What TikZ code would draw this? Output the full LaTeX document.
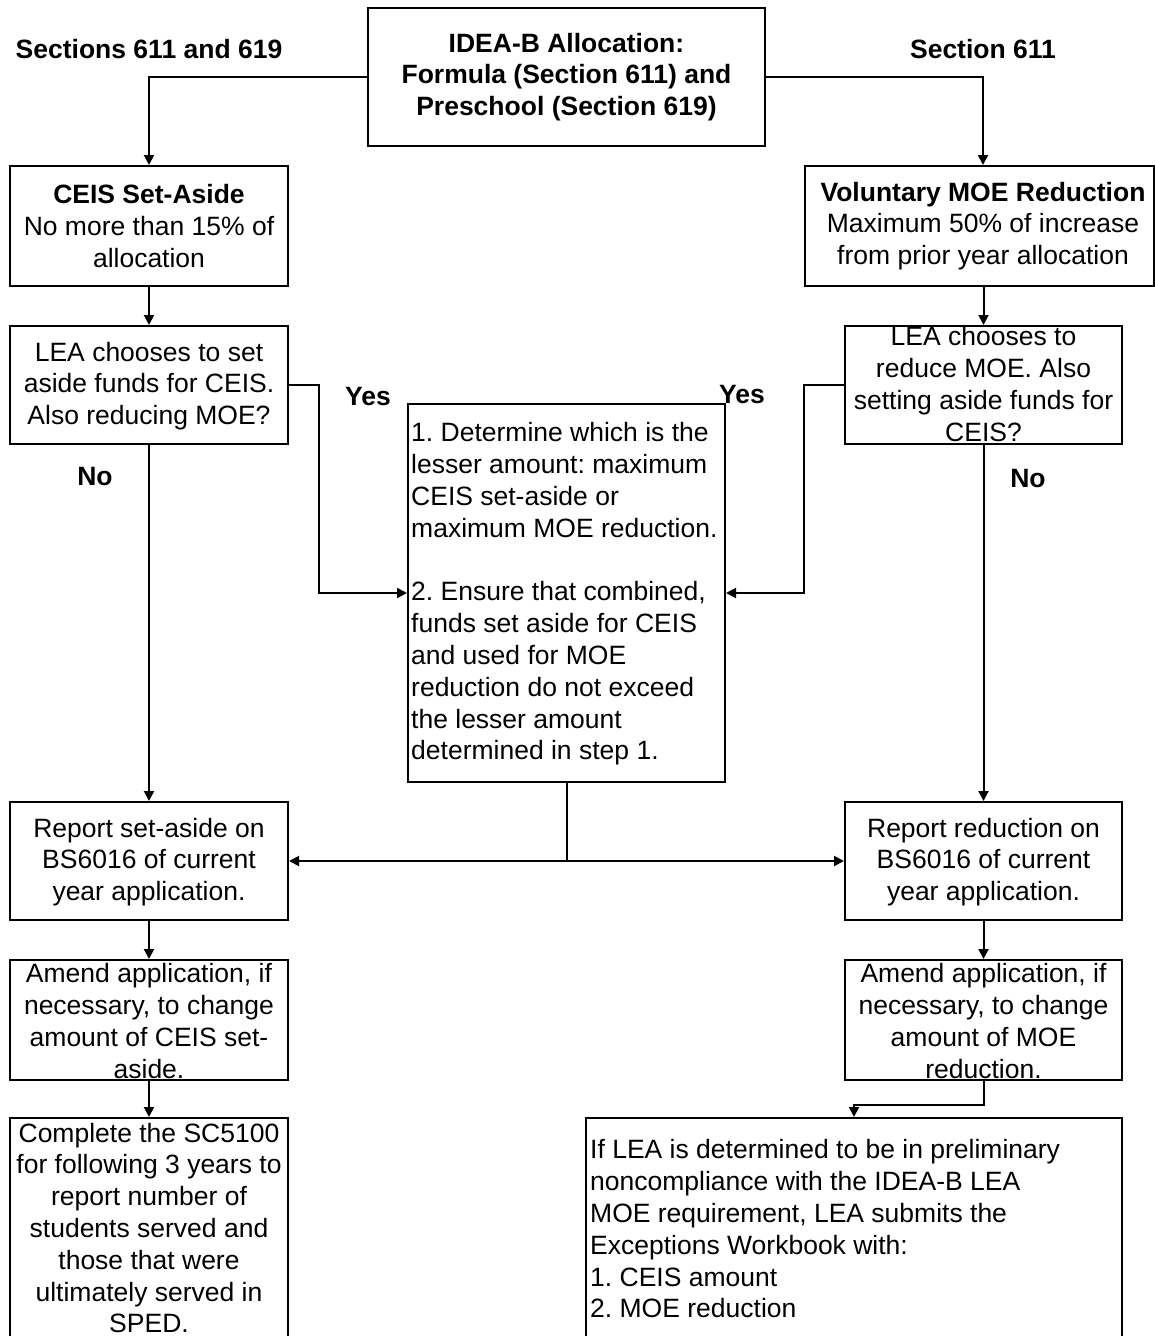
\documentclass[tikz,border=0pt]{standalone}
\usepackage{fontspec}
\setmainfont{Liberation Sans}
\usetikzlibrary{arrows.meta}
\frenchspacing
\begin{document}
\begin{tikzpicture}[x=1pt,y=-1pt,
  box/.style={draw, line width=2pt, inner sep=0pt},
  txt/.style={inner sep=0pt, font=\fontsize{26.5}{31.8}\selectfont, align=center},
  txtl/.style={inner sep=0pt, font=\fontsize{26.5}{31.8}\selectfont, align=left},
  lbl/.style={inner sep=0pt, font=\fontsize{26.5}{31.8}\selectfont\bfseries},
  ln/.style={line width=2pt},
  arr/.style={ln, -{Triangle[length=10pt,width=10pt]}}]
\clip (0,0) rectangle (1155,1336);
\fill[white] (0,0) rectangle (1155,1336);

% boxes
\node[box, minimum width=397pt, minimum height=138pt] (top) at (566.5,77) {};
\node[box, minimum width=278pt, minimum height=120pt] (ceis) at (149,226) {};
\node[box, minimum width=349pt, minimum height=120pt] (moe) at (979.5,226) {};
\node[box, minimum width=278pt, minimum height=118pt] (lea1) at (149,385) {};
\node[box, minimum width=277pt, minimum height=118pt] (lea2) at (983.5,385) {};
\node[box, minimum width=317pt, minimum height=378pt] (mid) at (566.5,593) {};
\node[box, minimum width=278pt, minimum height=118pt] (rep1) at (149,861) {};
\node[box, minimum width=277pt, minimum height=118pt] (rep2) at (983.5,861) {};
\node[box, minimum width=278pt, minimum height=120pt] (amd1) at (149,1020) {};
\node[box, minimum width=277pt, minimum height=120pt] (amd2) at (983.5,1020) {};
\node[box, minimum width=278pt, minimum height=242pt] (comp) at (149,1239) {};
\node[box, minimum width=536pt, minimum height=242pt] (iflea) at (854,1239) {};

% texts
\node[txt, font=\fontsize{26.5}{31.8}\selectfont\bfseries] (ttop) at (566.5,77) {IDEA-B Allocation:\\Formula (Section 611) and\\Preschool (Section 619)};
\node[txt] (tceis) at (149,226) {\textbf{CEIS Set-Aside}\\No more than 15\% of\\allocation};
\node[txt] (tmoe) at (983,226) {\textbf{Voluntary MOE Reduction}\\Maximum 50\% of increase\\from prior year allocation};
\node[txt] (tlea1) at (149,386) {LEA chooses to set\\aside funds for CEIS.\\Also reducing MOE?};
\node[txt] (tlea2) at (983.5,384) {LEA chooses to\\reduce MOE. Also\\setting aside funds for\\CEIS?};
\node[txtl, anchor=west] (tmid) at (411,594) {1. Determine which is the\\lesser amount: maximum\\CEIS set-aside or\\maximum MOE reduction.\\[31.8pt]2. Ensure that combined,\\funds set aside for CEIS\\and used for MOE\\reduction do not exceed\\the lesser amount\\determined in step 1.};
\node[txt] (trep1) at (149,862) {Report set-aside on\\BS6016 of current\\year application.};
\node[txt] (trep2) at (983.5,862) {Report reduction on\\BS6016 of current\\year application.};
\node[txt] (tamd1) at (149,1021) {Amend application, if\\necessary, to change\\amount of CEIS set-\\aside.};
\node[txt] (tamd2) at (983.5,1021) {Amend application, if\\necessary, to change\\amount of MOE\\reduction.};
\node[txt] (tcomp) at (149,1228) {Complete the SC5100\\for following 3 years to\\report number of\\students served and\\those that were\\ultimately served in\\SPED.};
\node[txtl, anchor=west] (tif) at (590,1229) {If LEA is determined to be in preliminary\\noncompliance with the IDEA-B LEA\\MOE requirement, LEA submits the\\Exceptions Workbook with:\\1. CEIS amount\\2. MOE reduction};

% labels
\node[lbl] (l1) at (149,49) {Sections 611 and 619};
\node[lbl] (l2) at (983,49) {Section 611};
\node[lbl] (y1) at (368,397) {Yes};
\node[lbl] (y2) at (742,395) {Yes};
\node[lbl] (n1) at (95,477) {No};
\node[lbl] (n2) at (1028,479) {No};

% connectors
\draw[arr] (top.west) -| (ceis.north);
\draw[arr] (top.east) -| ([xshift=3.5pt]moe.north);
\draw[arr] (ceis.south) -- (lea1.north);
\draw[arr] (lea2.north |- moe.south) -- (lea2.north);
\draw[arr] (lea1.east) -- ++(30,0) |- (mid.west);
\draw[arr] (lea2.west) -- ++(-40,0) |- (mid.east);
\draw[arr] (lea1.south) -- (rep1.north);
\draw[arr] (lea2.south) -- (rep2.north);
\coordinate (j) at (mid.south |- rep1.east);
\draw[ln] (mid.south) -- (j);
\draw[arr] (j) -- (rep1.east);
\draw[arr] (j) -- (rep2.west);
\draw[arr] (rep1.south) -- (amd1.north);
\draw[arr] (rep2.south) -- (amd2.north);
\draw[arr] (amd1.south) -- (comp.north);
\draw[arr] (amd2.south) -- ++(0,24) -| (iflea.north);
\end{tikzpicture}
\end{document}
